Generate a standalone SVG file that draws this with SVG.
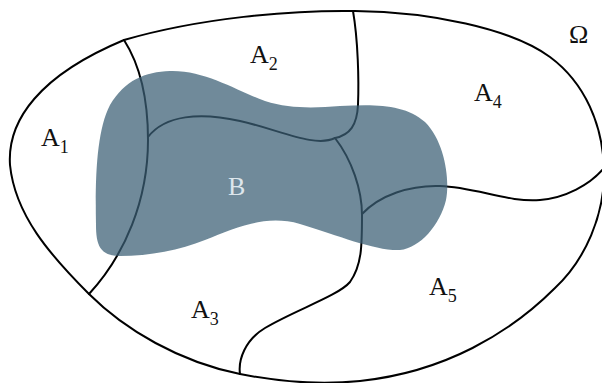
<svg xmlns="http://www.w3.org/2000/svg" width="602" height="383" viewBox="0 0 602 383">
<style>
.ln{fill:none;stroke:#000;stroke-width:2;stroke-linecap:round;stroke-linejoin:round}
.lbl{font-family:"Liberation Serif","DejaVu Serif",serif;font-size:26px;fill:#111}
.sub{font-size:18px}
</style>
<defs>
<filter id="soft" x="-5%" y="-5%" width="110%" height="110%"><feGaussianBlur stdDeviation="0.6"/></filter>
</defs>
<rect width="602" height="383" fill="#fff"/>
<g id="omega">
<path class="ln" d="M124,40 C200,18 290,10 355,11 C430,12 510,28 550,57 C585,83 603,125 604,170 C605,215 585,260 555,288 C510,333 445,372 360,381 C320,385 280,382 240,374 C180,362 125,330 89,294 C50,255 15,215 10,165 C7,120 40,75 124,40 Z"/>
</g>
<g id="connectors">
<path class="ln" d="M124,40 C140,65 148,100 148,140 C148,200 125,255 89,294"/>
<path class="ln" d="M148,137 C165,115 200,112 240,121 C280,130 315,148 335,138"/>
<path class="ln" d="M353,11 C358,40 359,80 358,105 C357,125 350,135 335,138"/>
<path class="ln" d="M335,138 C352,160 362,190 362,215 C362,245 362,265 350,282 C338,296 295,310 265,328 C245,340 238,360 240,374"/>
<path class="ln" d="M362,214 C380,195 410,185 440,186 C475,187 510,203 540,200 C565,198 590,185 604,168"/>
</g>
<g id="B">
<path d="M170,71 C205,70 235,90 265,101 C290,109 315,108 340,106 C375,104 405,104 425,122 C445,142 450,180 446,200 C440,225 420,248 400,250 C375,251 340,236 300,224 C265,214 235,228 205,240 C180,250 150,256 120,256 C100,256 96,245 96,225 C95,175 97,130 110,105 C125,80 145,72 170,71 Z" fill="#3a5f75" fill-opacity="0.73" filter="url(#soft)"/>
<text class="lbl" x="228" y="195" fill="#dde6ec" style="fill:#dde6ec">B</text>
</g>
<g id="A1"><text class="lbl" x="41" y="146">A<tspan class="sub" dy="7">1</tspan></text></g>
<g id="A2"><text class="lbl" x="250" y="63">A<tspan class="sub" dy="7">2</tspan></text></g>
<g id="A3"><text class="lbl" x="191" y="318">A<tspan class="sub" dy="7">3</tspan></text></g>
<g id="A4"><text class="lbl" x="474" y="101">A<tspan class="sub" dy="7">4</tspan></text></g>
<g id="A5"><text class="lbl" x="429" y="295">A<tspan class="sub" dy="7">5</tspan></text></g>
<g id="Omega-label"><text class="lbl" x="569" y="43">Ω</text></g>
</svg>
